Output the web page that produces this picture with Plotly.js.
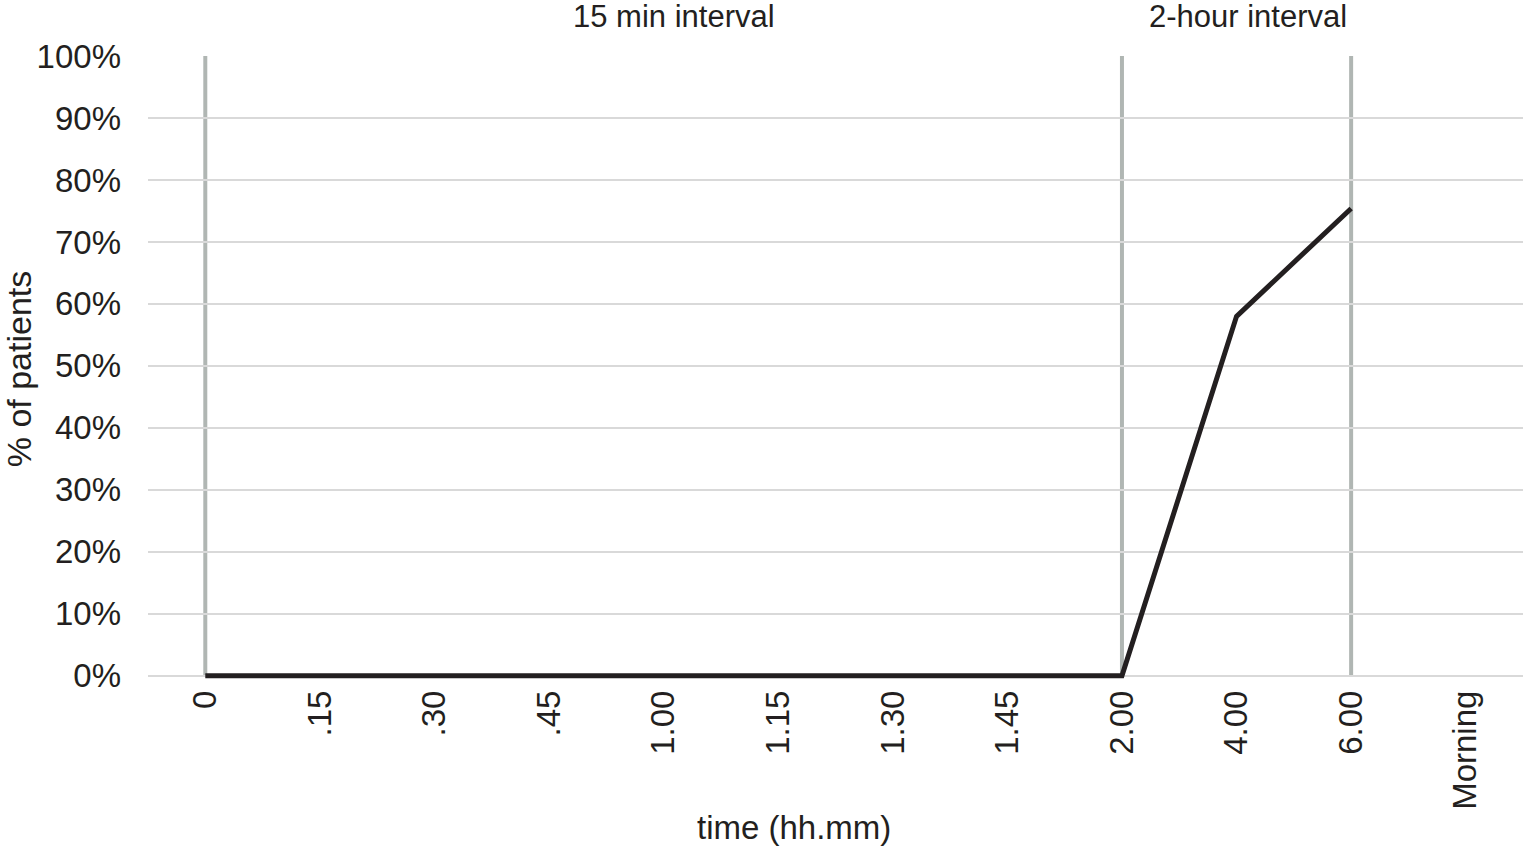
<!DOCTYPE html>
<html>
<head>
<meta charset="utf-8">
<script src="https://cdn.plot.ly/plotly-3.0.1.min.js"></script>
<style>
  html, body { margin: 0; padding: 0; background: #fff; }
  #chart { width: 1524px; height: 851px; }
</style>
</head>
<body>
<div id="chart"></div>
<script>
// time points on the x axis (categories)
var times = ['0', '.15', '.30', '.45', '1.00', '1.15', '1.30', '1.45', '2.00', '4.00', '6.00', 'Morning'];
// share of patients, null where nothing was measured
var patients = [0, 0, 0, 0, 0, 0, 0, 0, 0, 0.58, 0.754, null];
// where the interval marks stand
var markers = ['0', '2.00', '6.00'];
var intervalLabels = ['15 min interval', '2-hour interval'];

var font = 'Liberation Sans, Arial, sans-serif';

var data = [
  {
    x: times,
    y: patients,
    type: 'scatter',
    mode: 'lines',
    line: {color: '#231f20', width: 5},
    connectgaps: false,
    hoverinfo: 'x+y'
  }
];

// category strings like '2.00' would be read as indices, so use the index
var shapes = [];
for (var i = 0; i < markers.length; i++) {
  var idx = times.indexOf(markers[i]);
  shapes.push({
    type: 'line',
    xref: 'x', yref: 'y',
    x0: idx, x1: idx,
    y0: 0, y1: 1,
    layer: 'below',
    line: {color: '#b0b6b3', width: 4}
  });
}

var layout = {
  width: 1524,
  height: 851,
  margin: {l: 148, r: 1, t: 56, b: 169},
  paper_bgcolor: '#fff',
  plot_bgcolor: '#fff',
  font: {family: font, color: '#231f20', size: 33},
  showlegend: false,
  xaxis: {
    type: 'category',
    range: [-0.5, 11.5],
    showgrid: false,
    zeroline: false,
    showline: false,
    ticks: '',
    tickangle: -90,
    ticklabelstandoff: 1,
    tickfont: {size: 33}
  },
  yaxis: {
    range: [-0.01, 1],
    tickvals: [0, 0.1, 0.2, 0.3, 0.4, 0.5, 0.6, 0.7, 0.8, 0.9, 1],
    tickformat: '.0%',
    showgrid: true,
    gridcolor: '#d9d9d9',
    gridwidth: 2,
    zeroline: false,
    showline: false,
    ticks: '',
    ticklabelstandoff: 26,
    tickfont: {size: 33},
    title: {text: '% of patients', font: {size: 34}, standoff: 12}
  },
  shapes: shapes,
  annotations: [
    {
      text: intervalLabels[0],
      xref: 'paper', yref: 'paper',
      x: 0.3825, y: 1,
      xanchor: 'center', yanchor: 'bottom',
      yshift: 20,
      showarrow: false,
      font: {size: 31}
    },
    {
      text: intervalLabels[1],
      xref: 'paper', yref: 'paper',
      x: 0.8, y: 1,
      xanchor: 'center', yanchor: 'bottom',
      yshift: 20,
      showarrow: false,
      font: {size: 31}
    },
    {
      text: 'time (hh.mm)',
      xref: 'paper', yref: 'paper',
      x: 0.47, y: 0,
      xanchor: 'center', yanchor: 'middle',
      yshift: -145,
      showarrow: false,
      font: {size: 33}
    }
  ]
};

Plotly.newPlot('chart', data, layout, {displayModeBar: false});
</script>
</body>
</html>
